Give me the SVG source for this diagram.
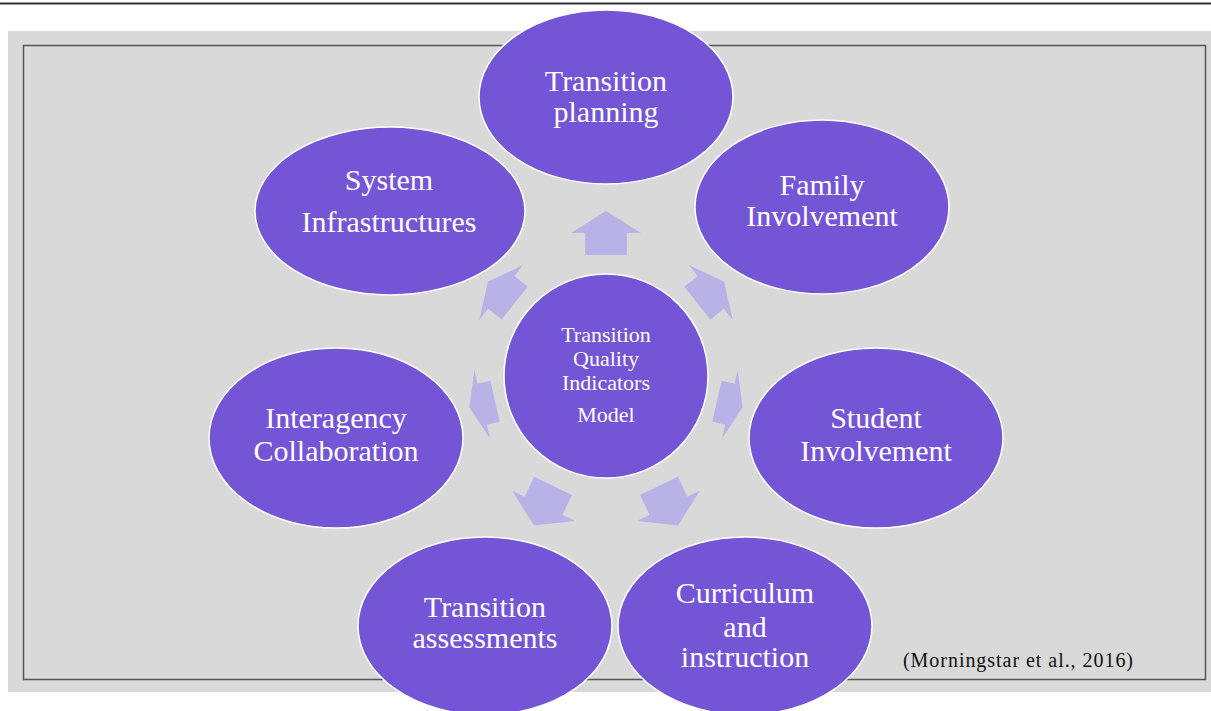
<svg xmlns="http://www.w3.org/2000/svg" width="1211" height="711" viewBox="0 0 1211 711">
<defs>
<style>
.node{fill:#7355d5;stroke:#ffffff;stroke-width:1.5}
.lbl{font-family:"Liberation Serif",serif;font-size:30px;fill:#ffffff;text-anchor:middle}
.clbl{font-family:"Liberation Serif",serif;font-size:22px;fill:#ffffff;text-anchor:middle}
.arr{fill:#b9b2e7}
</style>
<path id="arrow" d="M-21,22 L-21,0 L-35,0 L0,-22 L35,0 L21,0 L21,22 Z"/>
</defs>
<rect x="0" y="0" width="1211" height="711" fill="#ffffff"/>
<line x1="0" y1="3.5" x2="1211" y2="3.5" stroke="#333333" stroke-width="2"/>
<rect x="8" y="31" width="1203" height="661" fill="#d9d9d9"/>
<rect x="23.5" y="45.5" width="1182" height="634" fill="none" stroke="#555555" stroke-width="1.5"/>

<g id="connectors">
<use href="#arrow" class="arr" transform="rotate(0 606 376) translate(606 233)"/>
<use href="#arrow" class="arr" transform="rotate(51.43 606 376) translate(606 242) scale(1 0.78)"/>
<use href="#arrow" class="arr" transform="rotate(102.86 606 376) translate(606 249) scale(1 0.6)"/>
<use href="#arrow" class="arr" transform="rotate(154.29 606 376) translate(606 232)"/>
<use href="#arrow" class="arr" transform="rotate(-154.29 606 376) translate(606 232)"/>
<use href="#arrow" class="arr" transform="rotate(-102.86 606 376) translate(606 249) scale(1 0.6)"/>
<use href="#arrow" class="arr" transform="rotate(-51.43 606 376) translate(606 242) scale(1 0.78)"/>
</g>

<g id="center">
<circle class="node" cx="606" cy="376" r="102"/>
<text class="clbl" x="606" y="342">Transition</text>
<text class="clbl" x="606" y="366">Quality</text>
<text class="clbl" x="606" y="390">Indicators</text>
<text class="clbl" x="606" y="422">Model</text>
</g>

<g id="transition-planning">
<ellipse class="node" cx="606" cy="97" rx="127" ry="87"/>
<text class="lbl" x="606" y="91">Transition</text>
<text class="lbl" x="606" y="122">planning</text>
</g>

<g id="system-infrastructures">
<ellipse class="node" cx="390" cy="211" rx="135" ry="84"/>
<text class="lbl" x="389" y="190">System</text>
<text class="lbl" x="389" y="232">Infrastructures</text>
</g>

<g id="family-involvement">
<ellipse class="node" cx="822" cy="207" rx="127" ry="87"/>
<text class="lbl" x="822" y="195">Family</text>
<text class="lbl" x="822" y="226">Involvement</text>
</g>

<g id="interagency-collaboration">
<ellipse class="node" cx="336" cy="438" rx="127" ry="90"/>
<text class="lbl" x="336" y="428">Interagency</text>
<text class="lbl" x="336" y="461">Collaboration</text>
</g>

<g id="student-involvement">
<ellipse class="node" cx="876" cy="438" rx="127" ry="90"/>
<text class="lbl" x="876" y="428">Student</text>
<text class="lbl" x="876" y="461">Involvement</text>
</g>

<g id="transition-assessments">
<ellipse class="node" cx="485" cy="626" rx="127" ry="89"/>
<text class="lbl" x="485" y="617">Transition</text>
<text class="lbl" x="485" y="648">assessments</text>
</g>

<g id="curriculum-instruction">
<ellipse class="node" cx="745" cy="626" rx="127" ry="89"/>
<text class="lbl" x="745" y="603">Curriculum</text>
<text class="lbl" x="745" y="637">and</text>
<text class="lbl" x="745" y="667">instruction</text>
</g>

<text x="903" y="667" font-family="Liberation Serif, serif" font-size="20" fill="#111111" textLength="230" lengthAdjust="spacing">(Morningstar et al., 2016)</text>
</svg>
